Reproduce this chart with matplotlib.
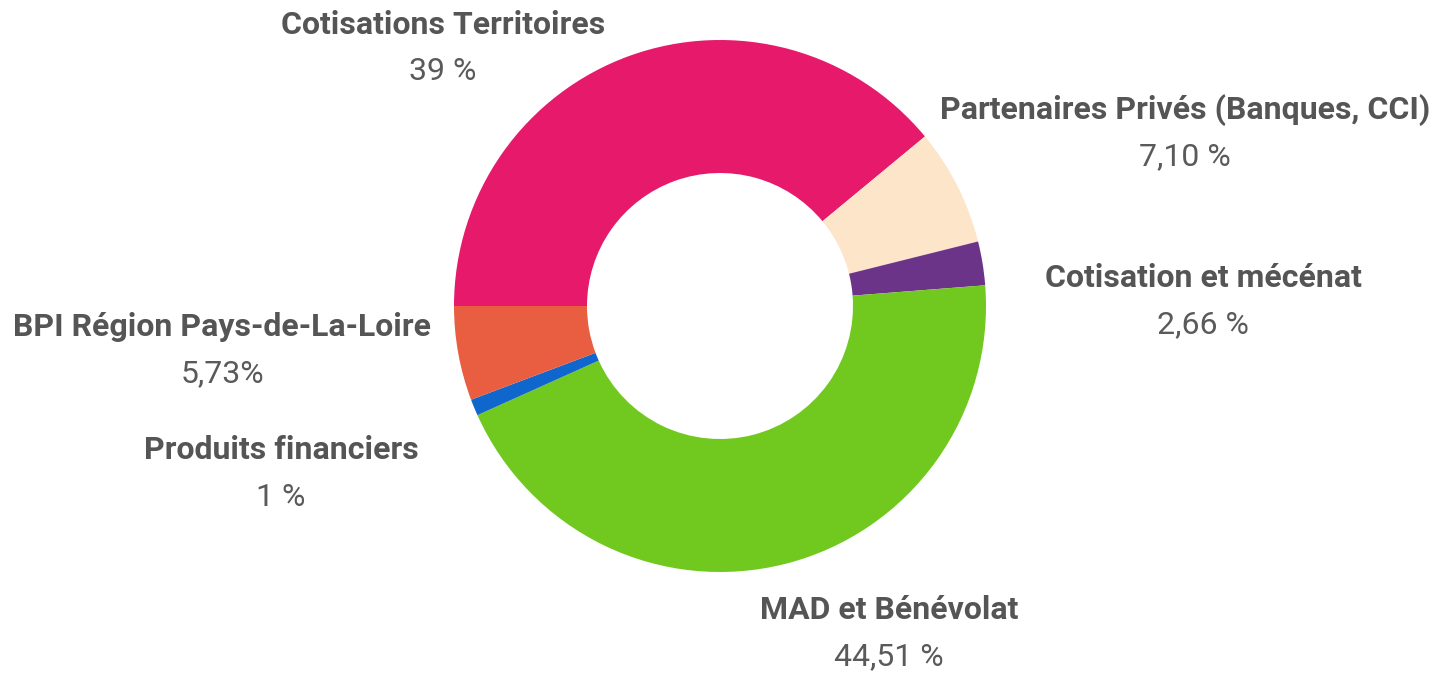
import matplotlib.pyplot as plt

# Data
labels = ["Cotisations Territoires", "Partenaires Privés (Banques, CCI)", "Cotisation et mécénat",
          "MAD et Bénévolat", "Produits financiers", "BPI Région Pays-de-La-Loire"]
values = [39, 7.10, 2.66, 44.51, 1, 5.73]
value_labels = ["39 %", "7,10 %", "2,66 %", "44,51 %", "1 %", "5,73%"]
colors = ["#E6196A", "#FCE5C8", "#6C3489", "#71C920", "#0F66CC", "#E95D41"]

# label anchor positions in pixels (x, y from top)
label_pos = [(443, 25), (1185, 110), (1203, 278), (889, 610), (281, 450), (222, 327)]

W, H = 1454, 673
fig = plt.figure(figsize=(W / 100, H / 100), dpi=100)
ax = fig.add_axes([0, 0, 1, 1])

ax.pie(values, colors=colors, startangle=180, counterclock=False,
       center=(720, H - 306), radius=266,
       wedgeprops=dict(width=133, linewidth=0))
ax.set_xlim(0, W)
ax.set_ylim(0, H)
ax.set_aspect("equal")
ax.axis("off")

for lab, val, (x, y) in zip(labels, value_labels, label_pos):
    ax.text(x, H - y, lab, ha="center", va="center", fontsize=23, fontweight="bold",
            color="#555555", family="Roboto")
    ax.text(x, H - y - 47, val, ha="center", va="center", fontsize=23,
            color="#5a5a5a", family="Roboto")

fig.savefig("out.png", dpi=100)
